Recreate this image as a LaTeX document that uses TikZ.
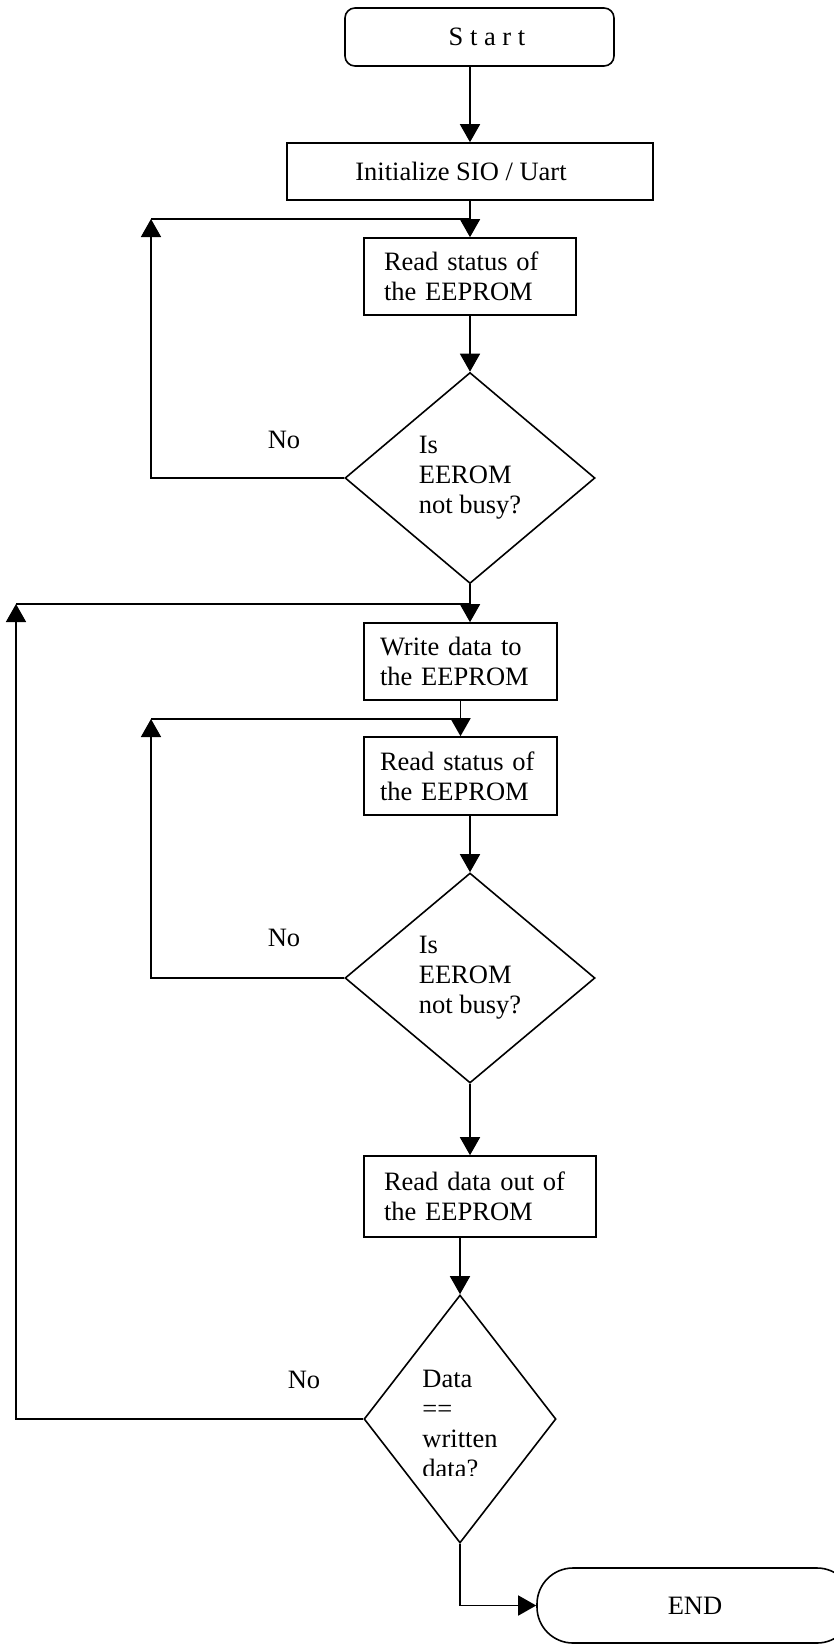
\documentclass[tikz,border=0pt]{standalone}
\usepackage{fontspec}
\setmainfont{Liberation Serif}
\usetikzlibrary{arrows.meta,shapes.geometric}
\begin{document}
\begin{tikzpicture}[x=0.5pt,y=-0.5pt,
  every node/.style={font=\fontsize{13.25pt}{15pt}\selectfont},
  box/.style={draw, line width=0.8pt, inner sep=0pt},
  txtbox/.style={box, align=left, text width=#1, inner xsep=10pt},
  narrowbox/.style={box, align=left, text width=#1, inner xsep=8pt},
  decision/.style={draw, shape=diamond, line width=0.8pt, inner sep=0pt, align=left},
  arr/.style={-{Triangle[length=9pt,width=10pt]}, line width=0.8pt},
  ln/.style={line width=0.8pt}]
\useasboundingbox (0,0) rectangle (834,1644);

\node[box, rounded corners=5pt, minimum width=134.5pt, minimum height=29pt] (start) at (479.5,37) {\hspace*{7.5pt}S t a r t};
\node[box, minimum width=183pt, minimum height=28.5pt] (init) at (470,171.5) {Initialize SIO / Uart\hspace*{9pt}};
\node[txtbox=86pt, minimum height=38.5pt] (rs1) at (470,276.5) {Read status of\\the EEPROM};
\node[decision, minimum width=125pt, minimum height=105.5pt] (d1) at (470,478) {Is\\EEROM\\not busy?};
\node[narrowbox=80.5pt, minimum height=38.5pt] (wr) at (460.5,661.5) {Write data to\\the EEPROM};
\node[narrowbox=80.5pt, minimum height=39pt] (rs2) at (460.5,776) {Read status of\\the EEPROM};
\node[decision, minimum width=125pt, minimum height=105pt] (d2) at (470,978) {Is\\EEROM\\not busy?};
\node[txtbox=96pt, minimum height=40.5pt] (rd) at (480,1196.5) {Read data out of\\the EEPROM};
\node[decision, minimum width=96pt, minimum height=124pt] (d3) at (460,1419) {};
\begin{scope}
\clip (0,0) rectangle (834,1475);
\node[align=left] (d3t) at (460,1424) {Data\\==\\written\\data?};
\end{scope}
\node[box, rounded corners=18pt, minimum width=158pt, minimum height=37.5pt] (end) at (695,1605.5) {END};

\node (no1) at (284,440) {No};
\node (no2) at (284,938) {No};
\node (no3) at (304,1380) {No};

\coordinate (c1) at (151,219);
\coordinate (c2) at (16,604);
\coordinate (c3) at (151,719);

\draw[arr] (init.north |- start.south) -- (init.north);
\draw[arr] (init.south) -- (rs1.north);
\draw[arr] (d1.west) -| (c1);
\draw[ln] (c1) -- (c1 -| rs1.north);
\draw[arr] (rs1.south) -- (d1.north);
\draw[arr] (d1.south) -- (d1.south |- wr.north);
\draw[arr] (d3.west) -| (c2);
\draw[ln] (c2) -- (c2 -| d1.south);
\draw[arr] (wr.south) -- (rs2.north);
\draw[arr] (d2.west) -| (c3);
\draw[ln] (c3) -- (c3 -| wr.south);
\draw[arr] (d2.north |- rs2.south) -- (d2.north);
\draw[arr] (d2.south) -- (d2.south |- rd.north);
\draw[arr] (d3.north |- rd.south) -- (d3.north);
\draw[arr] (d3.south) |- (end.west);
\end{tikzpicture}
\end{document}
